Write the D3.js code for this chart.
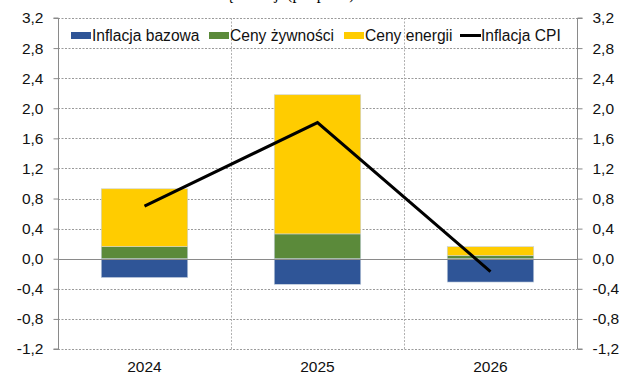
<!DOCTYPE html>
<html>
<head>
<meta charset="utf-8">
<script src="https://cdn.jsdelivr.net/npm/d3@7"></script>
<style>
  html, body { margin: 0; padding: 0; background: #fff; }
  svg { display: block; }
  text { font-family: "Liberation Sans", Arial, sans-serif; }
</style>
</head>
<body>
<svg id="chart" width="619" height="374"></svg>
<script>
// Years on the x axis
const years = ["2024", "2025", "2026"];
// Contributions to CPI inflation (pp)
const coreInflation = [-0.25, -0.34, -0.31];
const foodPrices = [0.16, 0.33, 0.04];
const energyPrices = [0.77, 1.85, 0.12];
// Headline CPI line
const cpiInflation = [0.70, 1.81, -0.17];
// Y axis ticks
const yTicks = [-1.2, -0.8, -0.4, 0.0, 0.4, 0.8, 1.2, 1.6, 2.0, 2.4, 2.8, 3.2];

const seriesNames = ["Inflacja bazowa", "Ceny żywności", "Ceny energii", "Inflacja CPI"];
const colors = { core: "#2F5597", food: "#5B8A3A", energy: "#FFCC00", cpi: "#000000" };

const svg = d3.select("#chart");
const plotLeft = 58, plotRight = 577, plotTop = 18, plotBottom = 349;

const x = d3.scaleBand().domain(years).range([plotLeft, plotRight]).paddingInner(0).paddingOuter(0);
const y = d3.scaleLinear().domain([-1.2, 3.2]).range([plotBottom, plotTop]);
const fmt = v => d3.format(".1f")(v).replace(".", ",").replace("−", "-");

// Title line running off the top edge
svg.append("text")
  .attr("x", 240).attr("y", -1)
  .attr("text-anchor", "middle")
  .style("font-family", "'Liberation Serif', 'Times New Roman', serif")
  .style("font-size", "16px")
  .attr("fill", "#000")
  .text("Wkład w zmianę inflacji (pkt proc.)");

// Horizontal gridlines
svg.append("g").selectAll("line")
  .data(yTicks.filter(d => d !== 0))
  .join("line")
  .attr("x1", plotLeft).attr("x2", plotRight)
  .attr("y1", d => Math.round(y(d)) + 0.5).attr("y2", d => Math.round(y(d)) + 0.5)
  .attr("stroke", "#9a9a9a").attr("stroke-width", 1).attr("stroke-dasharray", "2,1.5");

// Vertical gridlines between categories
svg.append("g").selectAll("line")
  .data(years.slice(1))
  .join("line")
  .attr("x1", d => Math.round(x(d)) + 0.5).attr("x2", d => Math.round(x(d)) + 0.5)
  .attr("y1", plotTop).attr("y2", plotBottom)
  .attr("stroke", "#b0b0b0").attr("stroke-width", 1).attr("stroke-dasharray", "2,1.5");

// Stacked bars: positives stack upwards, negatives downwards
const barW = x.bandwidth() * 0.5;
const barData = years.map((yr, i) => {
  const parts = [
    { key: "core", v: coreInflation[i] },
    { key: "food", v: foodPrices[i] },
    { key: "energy", v: energyPrices[i] }
  ];
  let pos = 0, neg = 0;
  return parts.map(p => {
    let y0, y1;
    if (p.v >= 0) { y0 = pos; y1 = pos + p.v; pos = y1; }
    else { y0 = neg; y1 = neg + p.v; neg = y1; }
    return { year: yr, key: p.key, y0, y1 };
  });
}).flat();

svg.append("g").selectAll("rect")
  .data(barData)
  .join("rect")
  .attr("x", d => x(d.year) + (x.bandwidth() - barW) / 2)
  .attr("width", barW)
  .attr("y", d => y(Math.max(d.y0, d.y1)))
  .attr("height", d => Math.abs(y(d.y0) - y(d.y1)))
  .attr("fill", d => colors[d.key])
  .attr("stroke", "#c9d3e0").attr("stroke-width", 0.6);

// Zero line
svg.append("line")
  .attr("x1", plotLeft).attr("x2", plotRight)
  .attr("y1", Math.round(y(0)) + 0.5).attr("y2", Math.round(y(0)) + 0.5)
  .attr("stroke", "#8a8a8a").attr("stroke-width", 1.2);

// CPI line
const line = d3.line()
  .x((d, i) => x(years[i]) + x.bandwidth() / 2)
  .y(d => y(d));
svg.append("path")
  .datum(cpiInflation)
  .attr("d", line)
  .attr("fill", "none")
  .attr("stroke", colors.cpi)
  .attr("stroke-width", 3);

// Axes
const leftAxis = d3.axisLeft(y).tickValues(yTicks).tickFormat(fmt).tickSize(5).tickPadding(10);
const rightAxis = d3.axisRight(y).tickValues(yTicks).tickFormat(fmt).tickSize(5).tickPadding(10);

function styleAxis(g) {
  g.select(".domain").attr("stroke", "#8a8a8a");
  g.selectAll(".tick line").attr("stroke", "#8a8a8a");
  g.selectAll(".tick text").style("font-size", "15.5px").attr("fill", "#111");
}
svg.append("g").attr("transform", `translate(${plotLeft + 0.5},0)`).call(leftAxis).call(styleAxis)
  .select(".domain").attr("d", `M-5,${y(3.2)}H0V${y(-1.2)}H-5`);
svg.append("g").attr("transform", `translate(${plotRight + 0.5},0)`).call(rightAxis).call(styleAxis)
  .select(".domain").attr("d", `M5,${y(3.2)}H0V${y(-1.2)}H5`);

// Category labels
svg.append("g").selectAll("text")
  .data(years)
  .join("text")
  .attr("x", d => x(d) + x.bandwidth() / 2)
  .attr("y", 372)
  .attr("text-anchor", "middle")
  .style("font-size", "15.5px")
  .attr("fill", "#111")
  .text(d => d);

// Legend
const legend = svg.append("g");
const legendItems = [
  { name: seriesNames[0], key: "core", sx: 71, tx: 92 },
  { name: seriesNames[1], key: "food", sx: 209, tx: 230 },
  { name: seriesNames[2], key: "energy", sx: 344, tx: 365 },
  { name: seriesNames[3], key: "cpi", sx: 460, tx: 481 }
];
legendItems.forEach(it => {
  if (it.key === "cpi") {
    legend.append("line")
      .attr("x1", it.sx).attr("x2", it.sx + 21)
      .attr("y1", 35.5).attr("y2", 35.5)
      .attr("stroke", colors.cpi).attr("stroke-width", 3);
  } else {
    legend.append("rect")
      .attr("x", it.sx).attr("y", 32).attr("width", 20).attr("height", 7)
      .attr("fill", colors[it.key]);
  }
  legend.append("text")
    .attr("x", it.tx).attr("y", 41)
    .style("font-size", "15.6px")
    .attr("fill", "#111")
    .text(it.name);
});
</script>
</body>
</html>
